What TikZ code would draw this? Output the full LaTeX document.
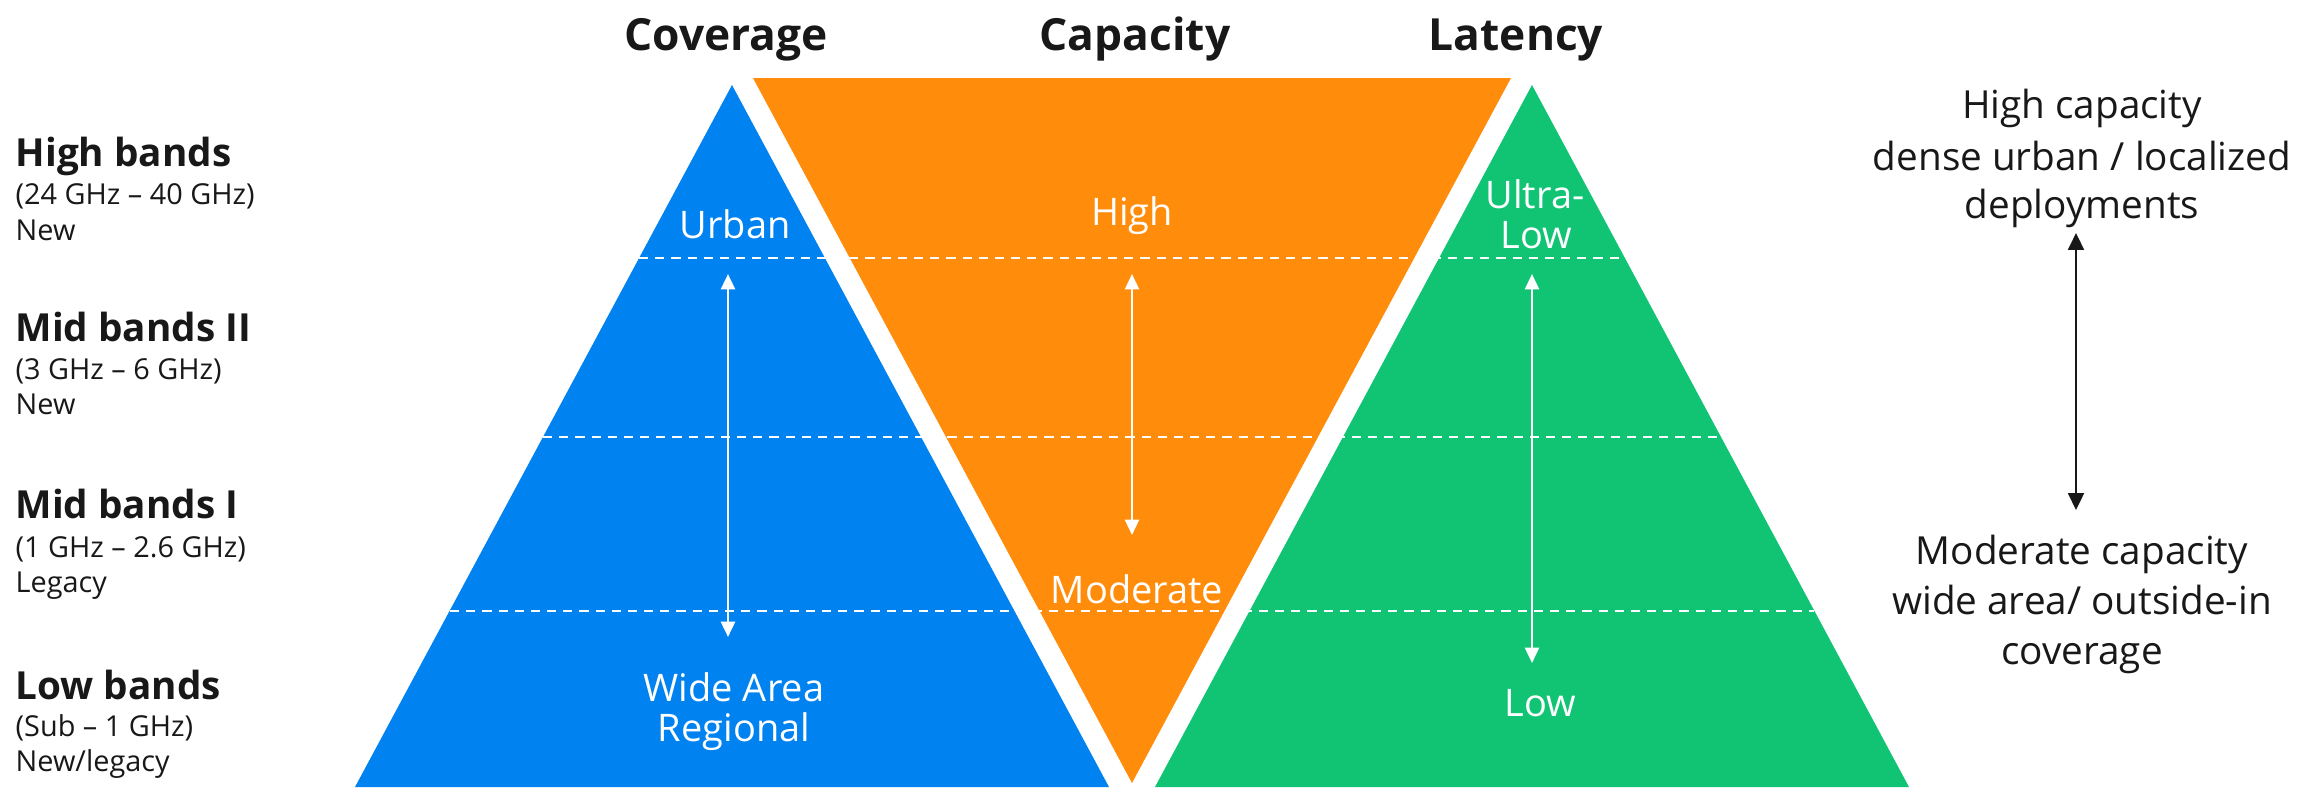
\documentclass[tikz,border=0pt]{standalone}
\usepackage{fontspec}
\setmainfont{Open Sans}
\usetikzlibrary{arrows.meta}
\definecolor{eblue}{RGB}{0,130,240}
\definecolor{eorange}{RGB}{255,140,10}
\definecolor{egreen}{RGB}{16,196,116}
\definecolor{etext}{RGB}{24,24,24}
\tikzset{
 headtitle/.style={font=\fontsize{12.6}{15}\selectfont\bfseries, text=etext, anchor=base, inner sep=0pt},
 bandhead/.style={font=\fontsize{11}{13}\selectfont\bfseries, text=etext, anchor=base west, inner sep=0pt},
 bandsub/.style={font=\fontsize{8.2}{10}\selectfont, text=etext, anchor=base west, inner sep=0pt},
 inlabel/.style={font=\fontsize{10.8}{12}\selectfont, text=white, anchor=base, inner sep=0pt},
 sidetext/.style={font=\fontsize{11}{13}\selectfont, text=etext, anchor=base, inner sep=0pt},
 bandline/.style={white, line width=0.6pt, dash pattern=on 2.6pt off 2pt},
 warrow/.style={white, line width=0.75pt, {Triangle[width=4pt,length=4.4pt]}-{Triangle[width=4pt,length=4.4pt]}},
 barrow/.style={etext, line width=0.7pt, {Triangle[width=4.5pt,length=4.8pt]}-{Triangle[width=4.5pt,length=4.8pt]}},
}
\begin{document}
\begin{tikzpicture}[x=0.01cm,y=-0.01cm]
\useasboundingbox (0,0) rectangle (2323,787);
% triangles
\fill[eblue] (732,85) -- (1109,787) -- (355,787) -- cycle;
\fill[egreen] (1532,85) -- (1909,787) -- (1155,787) -- cycle;
\fill[eorange] (753,78) -- (1511,78) -- (1132,783) -- cycle;
% band separators
\coordinate (l1a) at (639,258); \coordinate (l1b) at (1625,258);
\coordinate (l2a) at (543,437); \coordinate (l2b) at (1721,437);
\coordinate (l3a) at (450,611); \coordinate (l3b) at (1814,611);
\draw[bandline] (l1a) -- (l1b);
\draw[bandline] (l2a) -- (l2b);
\draw[bandline] (l3a) -- (l3b);
% titles
\node[headtitle] (tcov) at (726,50) {Coverage};
\node[headtitle] (tcap) at (1135,50) {Capacity};
\node[headtitle] (tlat) at (1516,50) {Latency};
% left band labels
\node[bandhead] (hb) at (15,166) {High bands};
\node[bandsub] (hbr) at (15,204) {(24 GHz -- 40 GHz)};
\node[bandsub] (hbn) at (15,240) {New};
\node[bandhead] (mb2) at (15,341) {Mid bands II};
\node[bandsub] (mb2r) at (15,379) {(3 GHz -- 6 GHz)};
\node[bandsub] (mb2n) at (15,414) {New};
\node[bandhead] (mb1) at (15,518) {Mid bands I};
\node[bandsub] (mb1r) at (15,557) {(1 GHz -- 2.6 GHz)};
\node[bandsub] (mb1n) at (15,592) {Legacy};
\node[bandhead] (lb) at (15,699) {Low bands};
\node[bandsub] (lbr) at (15,736) {(Sub -- 1 GHz)};
\node[bandsub] (lbn) at (15,771) {New/legacy};
% labels inside triangles
\node[inlabel] (urban) at (735,238) {Urban};
\node[inlabel] (wide) at (734,701) {Wide Area};
\node[inlabel] (regional) at (734,741) {Regional};
\node[inlabel] (high) at (1132,225) {High};
\node[inlabel] (moderate) at (1137,603) {Moderate};
\node[inlabel] (ultra) at (1535,208) {Ultra-};
\node[inlabel] (ulow) at (1536,248) {Low};
\node[inlabel] (low) at (1540,716) {Low};
% white arrows
\coordinate (bt) at (728,274); \coordinate (bb) at (728,637);
\coordinate (ot) at (1132,274); \coordinate (ob) at (1132,535);
\coordinate (gt) at (1532,274); \coordinate (gb) at (1532,663);
\draw[warrow] (bt) -- (bb);
\draw[warrow] (ot) -- (ob);
\draw[warrow] (gt) -- (gb);
% right side
\node[sidetext] (r1) at (2082,118) {High capacity};
\node[sidetext] (r2) at (2082,170) {dense urban / localized};
\node[sidetext] (r3) at (2082,218) {deployments};
\node[sidetext] (r4) at (2082,564) {Moderate capacity};
\node[sidetext] (r5) at (2082,614) {wide area/ outside-in};
\node[sidetext] (r6) at (2082,664) {coverage};
\coordinate (kt) at (2076,233); \coordinate (kb) at (2076,510);
\draw[barrow] (kt) -- (kb);
\end{tikzpicture}
\end{document}
